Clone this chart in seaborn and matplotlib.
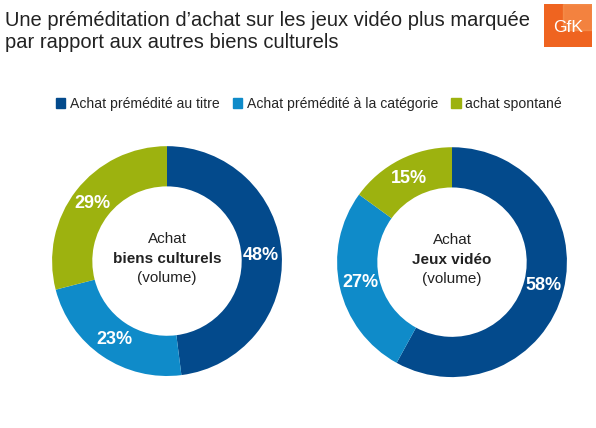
import numpy as np
import pandas as pd
import matplotlib
matplotlib.use("Agg")
import matplotlib.pyplot as plt
import seaborn as sns
from matplotlib.patches import Patch, Rectangle

# data
categories = ["Achat prémédité au titre", "Achat prémédité à la catégorie", "achat spontané"]
biens_culturels = [48, 23, 29]
jeux_video = [58, 27, 15]
centre_titles = ["biens culturels", "Jeux vidéo"]
colors = ["#034a8c", "#0f8bc9", "#9db20f"]

sns.set_style("white")
plt.rcParams['font.family'] = ['Liberation Sans', 'DejaVu Sans']

fig = plt.figure(figsize=(5.96, 4.28), dpi=100)

# title
fig.text(0.008, 0.975, "Une préméditation d’achat sur les jeux vidéo plus marquée\npar rapport aux autres biens culturels",
         ha="left", va="top", fontsize=14.5, color="#222222", linespacing=1.25)

# GfK logo
logo = fig.add_axes([0.912, 0.89, 0.082, 0.1])
logo.add_patch(Rectangle((0, 0), 1, 1, color="#ef6420"))
logo.add_patch(Rectangle((0.4, 0.4), 0.6, 0.6, color="#f8a865", alpha=0.45))
logo.text(0.5, 0.45, "GfK", ha="center", va="center", color="white", fontsize=12.5)
logo.set_xlim(0, 1)
logo.set_ylim(0, 1)
logo.axis("off")

# legend
handles = [Patch(facecolor=c, edgecolor=c) for c in colors]
fig.legend(handles, categories, loc="center", bbox_to_anchor=(0.518, 0.757), ncol=3,
           frameon=False, fontsize=10.1, handlelength=0.7, handleheight=0.7,
           handletextpad=0.3, columnspacing=0.95)

def donut(rect, values, title):
    ax = fig.add_axes(rect)
    wedges, texts, autotexts = ax.pie(values, colors=colors, startangle=90, counterclock=False,
                                      radius=1, autopct=lambda p: "%d%%" % round(p),
                                      pctdistance=0.82,
                                      wedgeprops=dict(width=0.35, edgecolor="none"),
                                      textprops=dict(color="white", fontsize=13, fontweight="bold"))
    ax.set_xlim(-1, 1)
    ax.set_ylim(-1, 1)
    ax.set_aspect("equal")
    ax.axis("off")
    ax.text(0, 0.19, "Achat", ha="center", va="center", fontsize=11, color="#222222")
    ax.text(0, 0.02, title, ha="center", va="center", fontsize=11, fontweight="bold", color="#222222")
    ax.text(0, -0.15, "(volume)", ha="center", va="center", fontsize=11, color="#222222")

donut([0.0872, 0.1215, 0.386, 0.537], biens_culturels, centre_titles[0])
donut([0.5654, 0.119, 0.386, 0.537], jeux_video, centre_titles[1])

fig.savefig("out.png", dpi=100)
